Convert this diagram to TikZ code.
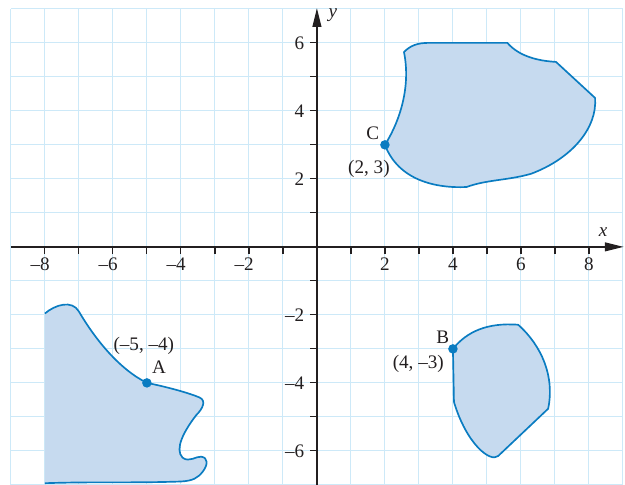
\documentclass[tikz,border=0pt]{standalone}
\usepackage{fontspec}
\setmainfont{Liberation Serif}
\usetikzlibrary{arrows.meta}
\definecolor{gridc}{HTML}{CDE9F8}
\definecolor{shapefill}{HTML}{C6DAEF}
\definecolor{shapeline}{HTML}{0A7CC1}
\definecolor{axisc}{HTML}{231F20}
\begin{document}
\begin{tikzpicture}[
  font=\fontsize{16}{19}\selectfont,
  gridline/.style={gridc, line width=0.9pt},
  axisline/.style={axisc, line width=1.1pt},
  tickline/.style={axisc, line width=1pt},
  regionfill/.style={fill=shapefill},
  regionline/.style={draw=shapeline, line width=1.4pt, line join=round},
  dot/.style={circle, fill=shapeline, inner sep=0pt, minimum size=0.28cm},
  lbl/.style={inner sep=1pt, text=axisc},
]
\useasboundingbox (-9.32,-6.99) rectangle (9.06,7.26);
% grid
\draw[gridline] (-9,-7) grid (9,7);

% shape C
\path[regionfill, regionline] (2,3)
  .. controls (2.5,3.8) and (2.75,4.8) .. (2.56,5.73)
  .. controls (2.75,5.92) and (2.95,6.0) .. (3.3,6.0)
  -- (5.6,6.0)
  .. controls (5.95,5.6) and (6.5,5.47) .. (7.03,5.44)
  -- (8.18,4.38)
  .. controls (8.25,3.5) and (7.5,2.6) .. (6.3,2.15)
  .. controls (5.6,1.95) and (5.0,1.98) .. (4.4,1.76)
  .. controls (3.5,1.72) and (2.4,1.95) .. (2,3)
  -- cycle;

% shape B
\path[regionfill, regionline] (4,-3)
  .. controls (4.4,-2.5) and (5.0,-2.22) .. (5.92,-2.29)
  .. controls (6.6,-2.9) and (7.0,-3.8) .. (6.8,-4.76)
  -- (5.33,-6.15)
  .. controls (5.1,-6.35) and (4.4,-5.8) .. (4.03,-4.56)
  -- cycle;

% shape A
\def\shapeApath{(-8,-1.96)
  .. controls (-7.7,-1.7) and (-7.2,-1.55) .. (-7.0,-1.9)
  .. controls (-6.5,-2.75) and (-5.8,-3.6) .. (-5,-4)
  .. controls (-4.4,-4.12) and (-3.75,-4.3) .. (-3.45,-4.43)
  .. controls (-3.25,-4.52) and (-3.35,-4.75) .. (-3.55,-4.95)
  .. controls (-3.9,-5.4) and (-4.2,-5.95) .. (-3.95,-6.2)
  .. controls (-3.75,-6.35) and (-3.55,-6.15) .. (-3.4,-6.17)
  .. controls (-3.2,-6.2) and (-3.2,-6.4) .. (-3.35,-6.6)
  .. controls (-3.5,-6.8) and (-3.65,-6.88) .. (-4.0,-6.9)
  .. controls (-5.5,-6.95) and (-6.5,-6.9) .. (-8,-6.95)}
\path[regionfill] \shapeApath -- cycle;
\path[regionline] \shapeApath;

% axes
\coordinate (xl) at (-9,0);
\coordinate (xr) at (9.02,0);
\coordinate (yb) at (0,-7);
\coordinate (yt) at (0,7.02);
\draw[axisline, -{Triangle[length=0.55cm,width=0.26cm]}] (xl) -- (xr);
\draw[axisline, -{Triangle[length=0.55cm,width=0.26cm]}] (yb) -- (yt);
\foreach \i in {-8,...,-1,1,2,...,8} \draw[tickline] (\i,0) -- (\i,-0.2);
\foreach \i in {-6,...,-1,1,2,...,6} \draw[tickline] (0,\i) -- (-0.2,\i);
\foreach \i in {2,4,6,8} {
  \node[lbl] (xp\i) at (\i,-0.52) {\i};
  \node[lbl] (xn\i) at (-\i,-0.52) {\makebox[0pt][r]{\textendash}\i};
}
\foreach \i in {2,4,6} {
  \node[lbl, anchor=east] (yp\i) at (-0.33,\i) {\i};
  \node[lbl, anchor=east] (yn\i) at (-0.33,-\i) {\textendash\i};
}
\node[lbl] (xname) at (8.42,0.44) {\textit{x}};
\node[lbl] (yname) at (0.47,6.81) {\textit{y}};

% points
\node[dot] (C) at (2,3) {};
\node[dot] (B) at (4,-3) {};
\node[dot] (A) at (-5,-4) {};
\node[lbl] (Clbl) at (1.64,3.33) {C};
\node[lbl] (Ccoord) at (1.53,2.3) {(2, 3)};
\node[lbl] (Blbl) at (3.7,-2.65) {B};
\node[lbl] (Bcoord) at (2.98,-3.44) {(4, \textendash3)};
\node[lbl] (Albl) at (-4.64,-3.54) {A};
\node[lbl] (Acoord) at (-5.09,-2.9) {(\textendash5, \textendash4)};
\end{tikzpicture}
\end{document}
